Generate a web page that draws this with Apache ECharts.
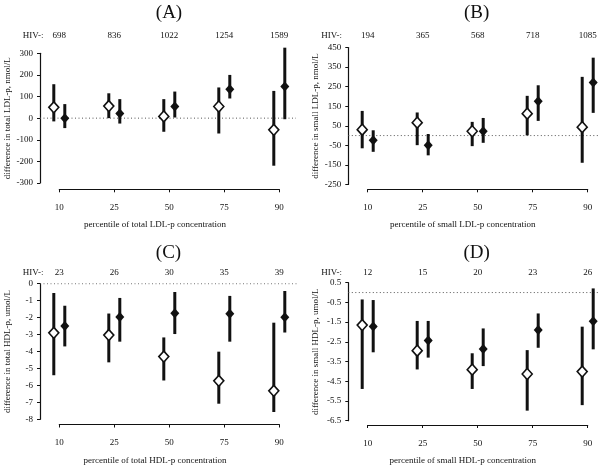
<!DOCTYPE html>
<html><head><meta charset="utf-8">
<script src="https://cdn.jsdelivr.net/npm/echarts@6/dist/echarts.min.js"></script>
<style>html,body{margin:0;padding:0;background:#fff}#c{width:601px;height:469px}</style>
</head><body><div id="c"></div>
<script>
// ---- data ----
const percentiles = ['10', '25', '50', '75', '90'];

const hivA = ['698', '836', '1022', '1254', '1589'];
const yTicksA = [-300, -200, -100, 0, 100, 200, 300];
const aOpen = [50, 56, 8, 54, -54];
const aOpenLo = [-15, 0, -63, -71, -220];
const aOpenHi = [157, 115, 88, 142, 126];
const aFilled = [0, 21, 54, 134, 146];
const aFilledLo = [-46, -25, 3, 91, -5];
const aFilledHi = [65, 88, 123, 200, 326];

const hivB = ['194', '365', '568', '718', '1085'];
const yTicksB = [-250, -150, -50, 50, 150, 250, 350, 450];
const bOpen = [30, 66, 22, 112, 43];
const bOpenLo = [-65, -49, -54, 1, -139];
const bOpenHi = [126, 118, 70, 203, 300];
const bFilled = [-24, -49, 22, 176, 271];
const bFilledLo = [-83, -101, -37, 75, 116];
const bFilledHi = [27, 8, 90, 257, 398];

const hivC = ['23', '26', '30', '35', '39'];
const yTicksC = [-8, -7, -6, -5, -4, -3, -2, -1, 0];
const cOpen = [-2.9, -3.03, -4.3, -5.73, -6.32];
const cOpenLo = [-5.4, -4.64, -5.71, -7.08, -7.57];
const cOpenHi = [-0.55, -1.76, -3.17, -4.01, -2.3];
const cFilled = [-2.5, -1.96, -1.74, -1.78, -1.98];
const cFilledLo = [-3.7, -3.42, -2.97, -3.42, -2.88];
const cFilledHi = [-1.3, -0.84, -0.49, -0.72, -0.43];

const hivD = ['12', '15', '20', '23', '26'];
const yTicksD = [-6.5, -5.5, -4.5, -3.5, -2.5, -1.5, -0.5, 0.5];
const dOpen = [-1.65, -2.95, -3.91, -4.13, -4.01];
const dOpenLo = [-4.89, -3.9, -4.89, -5.99, -5.71];
const dOpenHi = [-0.35, -1.44, -3.08, -2.92, -1.73];
const dFilled = [-1.72, -2.43, -2.86, -1.9, -1.46];
const dFilledLo = [-3.03, -3.3, -3.73, -2.8, -2.88];
const dFilledHi = [-0.38, -1.44, -1.82, -1.06, 0.21];

// ---- panels ----
const panels = [
  {title: '(A)', yName: 'difference in total LDL-p, nmol/L', xName: 'percentile of total LDL-p concentration',
   hiv: hivA, yTicks: yTicksA, open: aOpen, openLo: aOpenLo, openHi: aOpenHi, filled: aFilled, filledLo: aFilledLo, filledHi: aFilledHi,
   L: {yX: 40, top: 53.3, bottom: 183, xLine: 189.3, t0: 59.3, tx: 169, ty: 13.5, hy: 36, hivRight: 43.5, nx: 155, ny: 224.3, zEnd: 296}},
  {title: '(B)', yName: 'difference in small LDL-p, nmol/L', xName: 'percentile of small LDL-p concentration',
   hiv: hivB, yTicks: yTicksB, open: bOpen, openLo: bOpenLo, openHi: bOpenHi, filled: bFilled, filledLo: bFilledLo, filledHi: bFilledHi,
   L: {yX: 348.3, top: 47.5, bottom: 184.5, xLine: 189.3, t0: 367.7, tx: 476.7, ty: 13.5, hy: 36, hivRight: 342, nx: 462.8, ny: 224.3, zEnd: 598}},
  {title: '(C)', yName: 'difference in total HDL-p, umol/L', xName: 'percentile of total HDL-p concentration',
   hiv: hivC, yTicks: yTicksC, open: cOpen, openLo: cOpenLo, openHi: cOpenHi, filled: cFilled, filledLo: cFilledLo, filledHi: cFilledHi,
   L: {yX: 40, top: 283.7, bottom: 419.3, xLine: 424.5, t0: 59.3, tx: 168.5, ty: 253.3, hy: 272.7, hivRight: 43.5, nx: 155, ny: 460.7, zEnd: 297}},
  {title: '(D)', yName: 'difference in small HDL-p, umol/L', xName: 'percentile of small HDL-p concentration',
   hiv: hivD, yTicks: yTicksD, open: dOpen, openLo: dOpenLo, openHi: dOpenHi, filled: dFilled, filledLo: dFilledLo, filledHi: dFilledHi,
   L: {yX: 348.3, top: 282.7, bottom: 420.7, xLine: 425, t0: 367.7, tx: 476.7, ty: 253.3, hy: 272.7, hivRight: 342, nx: 462.8, ny: 460.7, zEnd: 598}}
];

const FONT = 'Liberation Serif';
const INK = '#111';
const STEP = 55;
const OFF = 0.1;

const grid = [], xAxis = [], yAxis = [], series = [], graphic = [];

panels.forEach((p, k) => {
  const L = p.L;
  const ymin = p.yTicks[0], ymax = p.yTicks[p.yTicks.length - 1];
  const h = L.bottom - L.top;
  grid.push({left: L.yX, top: L.top, width: L.zEnd - L.yX, height: h, containLabel: false});
  grid.push({left: L.t0, top: L.top, width: STEP * (percentiles.length - 1), height: h, containLabel: false});
  const g0 = 2 * k, g1 = 2 * k + 1;

  const xa0 = xAxis.length;
  xAxis.push({gridIndex: g0, type: 'value', min: 0, max: 1, show: false, axisLine: {onZero: false}});
  const xa1 = xAxis.length;
  xAxis.push({gridIndex: g1, type: 'value', min: 0, max: percentiles.length - 1, interval: 1,
    position: 'bottom', offset: L.xLine - L.bottom,
    axisLine: {show: true, onZero: false, lineStyle: {color: INK, width: 1.2}},
    axisTick: {show: true, inside: false, length: 3, lineStyle: {color: INK, width: 1}},
    axisLabel: {margin: 14, color: INK, fontFamily: FONT, fontSize: 9, formatter: v => percentiles[v]},
    splitLine: {show: false}});
  xAxis.push({gridIndex: g1, type: 'value', min: 0, max: percentiles.length - 1, interval: 1,
    position: 'top', offset: L.top - L.hy - 5,
    axisLine: {show: false, onZero: false}, axisTick: {show: false},
    axisLabel: {margin: 0.5, color: INK, fontFamily: FONT, fontSize: 9, formatter: v => p.hiv[v]},
    splitLine: {show: false}});

  const ya0 = yAxis.length;
  yAxis.push({gridIndex: g0, type: 'value', min: ymin, max: ymax,
    axisLine: {show: true, onZero: false, lineStyle: {color: INK, width: 1.2}},
    axisTick: {show: true, inside: false, length: 3, customValues: p.yTicks, lineStyle: {color: INK}},
    axisLabel: {margin: 7, color: INK, fontFamily: FONT, fontSize: 9, customValues: p.yTicks},
    splitLine: {show: false},
    name: p.yName, nameLocation: 'middle', nameGap: 28,
    nameTextStyle: {color: INK, fontFamily: FONT, fontSize: 9}});
  const ya1 = yAxis.length;
  yAxis.push({gridIndex: g1, type: 'value', min: ymin, max: ymax, show: false, axisLine: {onZero: false}});

  // dotted zero line
  series.push({type: 'line', xAxisIndex: xa0, yAxisIndex: ya0, data: [[0, 0], [1, 0]], symbol: 'none', silent: true,
    lineStyle: {color: '#555', width: 1, type: [1, 2.5]}, z: 1});

  const bar = (vals, lo, hi, off) => ({
    type: 'custom', xAxisIndex: xa1, yAxisIndex: ya1, clip: false, silent: true, z: 2,
    data: vals.map((v, i) => [i + off, lo[i], hi[i]]),
    renderItem: (params, api) => {
      const a = api.coord([api.value(0), api.value(1)]);
      const b = api.coord([api.value(0), api.value(2)]);
      return {type: 'line', shape: {x1: a[0], y1: a[1], x2: b[0], y2: b[1]},
        style: {stroke: INK, lineWidth: 3}};
    }
  });
  series.push(bar(p.open, p.openLo, p.openHi, -OFF));
  series.push(bar(p.filled, p.filledLo, p.filledHi, OFF));
  series.push({type: 'scatter', xAxisIndex: xa1, yAxisIndex: ya1, clip: false, silent: true, z: 3,
    symbol: 'diamond', symbolSize: [10, 11],
    itemStyle: {color: '#fff', borderColor: INK, borderWidth: 1.6, opacity: 1},
    data: p.open.map((v, i) => [i - OFF, v])});
  series.push({type: 'scatter', xAxisIndex: xa1, yAxisIndex: ya1, clip: false, silent: true, z: 3,
    symbol: 'diamond', symbolSize: [9, 10],
    itemStyle: {color: INK, opacity: 1},
    data: p.filled.map((v, i) => [i + OFF, v])});

  graphic.push({type: 'text', x: L.tx, y: L.ty, silent: true,
    style: {text: p.title, font: '19px "' + FONT + '"', fill: INK, align: 'center', verticalAlign: 'middle'}});
  graphic.push({type: 'text', x: L.hivRight, y: L.hy, silent: true,
    style: {text: 'HIV-:', font: '9px "' + FONT + '"', fill: INK, align: 'right', verticalAlign: 'middle'}});
  graphic.push({type: 'text', x: L.nx, y: L.ny, silent: true,
    style: {text: p.xName, font: '9px "' + FONT + '"', fill: INK, align: 'center', verticalAlign: 'middle'}});
});

const chart = echarts.init(document.getElementById('c'), null, {renderer: 'canvas'});
chart.setOption({backgroundColor: '#fff', animation: false, grid, xAxis, yAxis, series, graphic});
</script>
</body></html>
